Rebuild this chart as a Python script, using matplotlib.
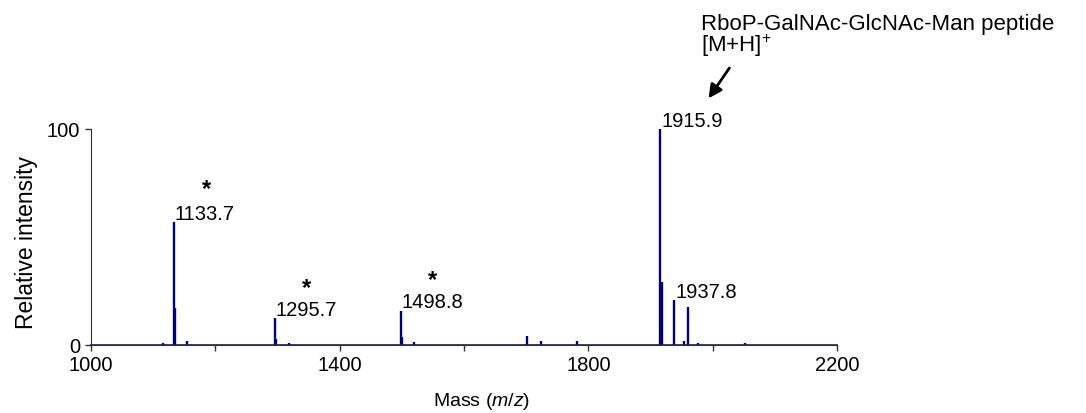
import matplotlib
matplotlib.use("Agg")
import matplotlib.pyplot as plt

plt.rcParams['font.family'] = ['Liberation Sans', 'DejaVu Sans']
plt.rcParams['mathtext.fontset'] = 'custom'
plt.rcParams['mathtext.rm'] = 'Liberation Sans'
plt.rcParams['mathtext.it'] = 'Liberation Sans:italic'

# peak list (m/z, relative intensity)
peak_mz = [1115.0, 1133.7, 1135.3, 1155.0, 1295.7, 1297.3, 1318.0,
           1498.8, 1500.4, 1519.5, 1701.7, 1724.0, 1781.0,
           1915.9, 1917.6, 1937.8, 1954.0, 1959.7, 1976.0, 2052.0]
peak_int = [1.0, 57.0, 17.0, 1.8, 12.4, 3.0, 0.8,
            15.6, 3.5, 1.5, 4.3, 2.0, 2.0,
            100.0, 29.0, 20.8, 2.0, 17.4, 0.8, 1.0]

labels = ["1133.7", "1295.7", "1498.8", "1915.9", "1937.8"]
label_x = [1135, 1297, 1499.5, 1917.8, 1939.4]
label_y = [58.3, 14.0, 17.5, 101.5, 22.1]
star_x = [1185, 1347, 1548.5]
star_y = [72.3, 26.4, 30.4]

xticks_major = [1000, 1400, 1800, 2200]
xticks_minor = [1200, 1600, 2000]
yticks = [0, 100]

navy = '#00007f'

fig = plt.figure(figsize=(10.86, 4.14), dpi=100)
ax = fig.add_axes([0.0838, 0.1643, 0.687, 0.5217])

ax.vlines(peak_mz, 0, peak_int, color=navy, lw=1.7, clip_on=False)
ax.plot([1000, 2200], [0, 0], color='#1a1a5a', lw=1.2, clip_on=False)

ax.set_xlim(1000, 2200)
ax.set_ylim(0, 100)
for s in ['top', 'right']:
    ax.spines[s].set_visible(False)
ax.spines['left'].set_color('#333333')
ax.spines['bottom'].set_color('#333333')
ax.set_xticks(xticks_major)
ax.set_xticks(xticks_minor, minor=True)
ax.set_yticks(yticks)
ax.tick_params(axis='both', which='both', direction='out', length=4, width=1,
               color='#333333', labelsize=14.5)
ax.tick_params(axis='x', pad=3)
ax.tick_params(axis='y', pad=4)

ax.set_ylabel("Relative intensity", fontsize=16.5)
ax.yaxis.set_label_coords(-0.071, 0.479)
ax.set_xlabel("Mass ($m/z$)", fontsize=14)
ax.xaxis.set_label_coords(0.524, -0.21)

for t, x, y in zip(labels, label_x, label_y):
    ax.text(x, y, t, fontsize=14.5, ha='left', va='baseline', clip_on=False)
for x, y in zip(star_x, star_y):
    ax.text(x, y, "*", fontsize=17, fontweight='bold', ha='center', va='center')

ax.text(1981, 146.3, "RboP-GalNAc-GlcNAc-Man peptide", fontsize=16,
        ha='left', va='baseline', clip_on=False)
ax.text(1981, 136.0, "[M+H]$^{+}$", fontsize=16, ha='left', va='baseline',
        clip_on=False)
ax.annotate("", xy=(1990.7, 113.1), xytext=(2029.3, 129.3),
            arrowprops=dict(arrowstyle='-|>', color='black', lw=2,
                            mutation_scale=20),
            annotation_clip=False)

fig.savefig("out.png", dpi=100)
